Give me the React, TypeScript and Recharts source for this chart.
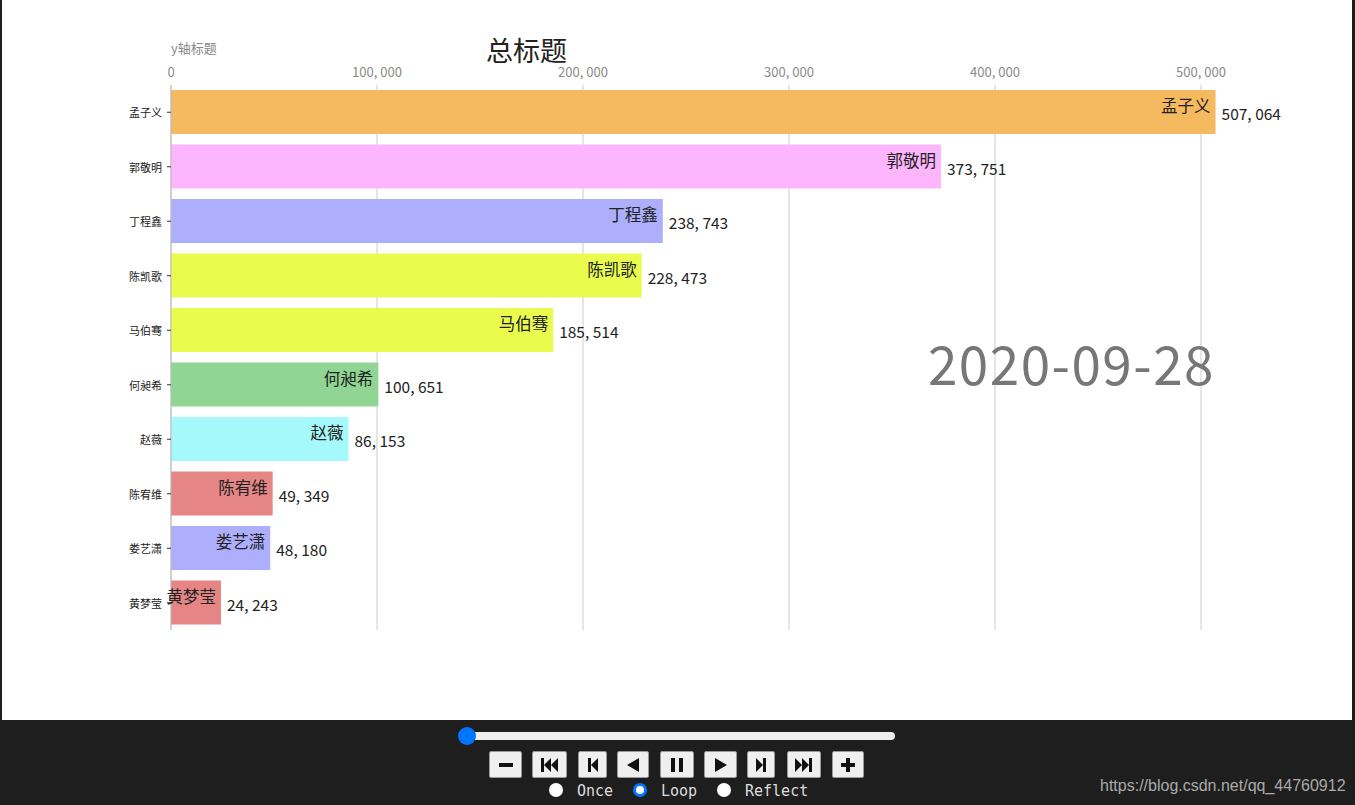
import React from "react";
import {
  BarChart,
  Bar,
  XAxis,
  YAxis,
  CartesianGrid,
  Cell,
  LabelList,
} from "recharts";

const names = ["孟子义", "郭敬明", "丁程鑫", "陈凯歌", "马伯骞", "何昶希", "赵薇", "陈宥维", "娄艺潇", "黄梦莹"];
const values = [507064, 373751, 238743, 228473, 185514, 100651, 86153, 49349, 48180, 24243];
const colors = ["#f5b95f", "#fdb5fd", "#adaffd", "#e9fb4d", "#e9fb4d", "#90d594", "#a6f9fb", "#e58585", "#adaffd", "#e58585"];
const xTicks = [0, 100000, 200000, 300000, 400000, 500000];
const xMax = 550000;
const dateLabel = "2020-09-28";
const title = "总标题";
const yTitle = "y轴标题";

const data = names.map((name, i) => ({ name, value: values[i] }));

const CJK = '"Noto Sans CJK SC", "Noto Sans", sans-serif';
const fmt = (v: number) => v.toLocaleString("en-US").replace(/,/g, ", ");

const NameLabel = (p: any) => {
  const { x, y, width, height, value } = p;
  return (
    <text x={x + width - 5} y={y + height / 2 - 7} textAnchor="end" dominantBaseline="central" fontSize={16.5} fontFamily={CJK} fill="#222">
      {value}
    </text>
  );
};

const ValueLabel = (p: any) => {
  const { x, y, width, height, value } = p;
  return (
    <text x={x + width + 6} y={y + height / 2 + 1} textAnchor="start" dominantBaseline="central" fontSize={15.5} fontFamily={CJK} fill="#222">
      {fmt(value)}
    </text>
  );
};

const XTick = (p: any) => (
  <text x={p.x} y={71} textAnchor="middle" dominantBaseline="central" fontSize={13} fontFamily={CJK} fill="#8a8a8a">
    {fmt(p.payload.value)}
  </text>
);

const YTick = (p: any) => (
  <text x={p.x - 3} y={p.y} textAnchor="end" dominantBaseline="central" fontSize={11} fontFamily={CJK} fill="#222">
    {p.payload.value}
  </text>
);

const gridX = ({ offset }: any) => xTicks.map((t) => offset.left + (t / xMax) * offset.width);

const Icon = ({ kind }: { kind: string }) => {
  const c = "#111";
  switch (kind) {
    case "minus":
      return <svg width="14" height="14"><rect x="0" y="5" width="14" height="4" fill={c} /></svg>;
    case "plus":
      return <svg width="14" height="14"><rect x="0" y="5" width="14" height="4" fill={c} /><rect x="5" y="0" width="4" height="14" fill={c} /></svg>;
    case "first":
      return <svg width="18" height="14"><rect x="0" y="0" width="3" height="14" fill={c} /><polygon points="10,0 3,7 10,14" fill={c} /><polygon points="17,0 10,7 17,14" fill={c} /></svg>;
    case "prev":
      return <svg width="10" height="14"><rect x="0" y="0" width="3" height="14" fill={c} /><polygon points="10,0 3,7 10,14" fill={c} /></svg>;
    case "back":
      return <svg width="12" height="14"><polygon points="12,0 0,7 12,14" fill={c} /></svg>;
    case "pause":
      return <svg width="14" height="14"><rect x="1" y="0" width="4" height="14" fill={c} /><rect x="9" y="0" width="4" height="14" fill={c} /></svg>;
    case "play":
      return <svg width="12" height="14"><polygon points="0,0 12,7 0,14" fill={c} /></svg>;
    case "next":
      return <svg width="10" height="14"><polygon points="0,0 7,7 0,14" fill={c} /><rect x="7" y="0" width="3" height="14" fill={c} /></svg>;
    default:
      return <svg width="18" height="14"><polygon points="0,0 7,7 0,14" fill={c} /><polygon points="7,0 14,7 7,14" fill={c} /><rect x="14" y="0" width="3" height="14" fill={c} /></svg>;
  }
};

const buttons = [
  { kind: "minus", left: 489, w: 33 },
  { kind: "first", left: 532, w: 35 },
  { kind: "prev", left: 578, w: 29 },
  { kind: "back", left: 617, w: 32 },
  { kind: "pause", left: 660, w: 34 },
  { kind: "play", left: 704, w: 33 },
  { kind: "next", left: 747, w: 28 },
  { kind: "last", left: 787, w: 34 },
  { kind: "plus", left: 832, w: 32 },
];

const radios = [
  { label: "Once", cx: 556, tx: 577, on: false },
  { label: "Loop", cx: 640, tx: 661, on: true },
  { label: "Reflect", cx: 724, tx: 745, on: false },
];

export default function App() {
  return (
    <div style={{ position: "fixed", left: 0, top: 0, width: 1355, height: 805, background: "#1e1e1e", overflow: "hidden" }}>
      <div style={{ position: "absolute", left: 2, top: 0, width: 1350, height: 720, background: "#fff" }}>
        <BarChart
          width={1350}
          height={720}
          data={data}
          layout="vertical"
          margin={{ top: 60, right: 48, bottom: 90, left: 119 }}
        >
          <CartesianGrid horizontal={false} stroke="#cccccc" verticalCoordinatesGenerator={gridX} />
          <XAxis
            type="number"
            orientation="top"
            domain={[0, xMax]}
            ticks={xTicks}
            height={25}
            axisLine={false}
            tickLine={false}
            tick={<XTick />}
          />
          <YAxis
            type="category"
            dataKey="name"
            width={50}
            axisLine={{ stroke: "#bbb" }}
            tickLine={{ stroke: "#333" }}
            tickSize={4}
            tick={<YTick />}
          />
          <Bar dataKey="value" barSize={44} isAnimationActive={false}>
            {data.map((d, i) => (
              <Cell key={d.name} fill={colors[i]} />
            ))}
            <LabelList dataKey="name" content={<NameLabel />} />
            <LabelList dataKey="value" content={<ValueLabel />} />
          </Bar>
        </BarChart>
        <div style={{ position: "absolute", left: 169, top: 39, fontSize: 13, color: "#888", fontFamily: CJK, lineHeight: "18px" }}>{yTitle}</div>
        <div style={{ position: "absolute", left: 484, top: 32, fontSize: 27, color: "#222", fontFamily: CJK, lineHeight: "36px" }}>{title}</div>
        <div
          style={{
            position: "absolute",
            right: 1350 - 1213,
            top: 330,
            fontSize: 53,
            letterSpacing: 1.5,
            color: "#777",
            fontFamily: CJK,
            lineHeight: "64px",
            whiteSpace: "nowrap",
          }}
        >
          {dateLabel}
        </div>
      </div>

      <div style={{ position: "absolute", left: 460, top: 732, width: 435, height: 8, borderRadius: 4, background: "#efefef" }} />
      <div style={{ position: "absolute", left: 458, top: 727, width: 18, height: 18, borderRadius: 9, background: "#0075ff" }} />

      {buttons.map((b) => (
        <div
          key={b.kind}
          style={{
            position: "absolute",
            left: b.left,
            top: 751,
            width: b.w,
            height: 27,
            background: "#efefef",
            border: "1px solid #999",
            boxSizing: "border-box",
            borderRadius: 2,
            display: "flex",
            alignItems: "center",
            justifyContent: "center",
          }}
        >
          <Icon kind={b.kind} />
        </div>
      ))}

      {radios.map((r) => (
        <React.Fragment key={r.label}>
          <div
            style={{
              position: "absolute",
              left: r.cx - 7,
              top: 783,
              width: 14,
              height: 14,
              borderRadius: 7,
              boxSizing: "border-box",
              background: "#fff",
              border: r.on ? "3px solid #0075ff" : "none",
            }}
          />
          <div style={{ position: "absolute", left: r.tx, top: 781, fontSize: 15, fontFamily: '"DejaVu Sans Mono", monospace', color: "#ddd", lineHeight: "20px" }}>
            {r.label}
          </div>
        </React.Fragment>
      ))}

      <div style={{ position: "absolute", left: 1100, top: 776, fontSize: 16, fontFamily: '"Liberation Sans", Arial, sans-serif', color: "#aaa", lineHeight: "20px" }}>
        https://blog.csdn.net/qq_44760912
      </div>
    </div>
  );
}
